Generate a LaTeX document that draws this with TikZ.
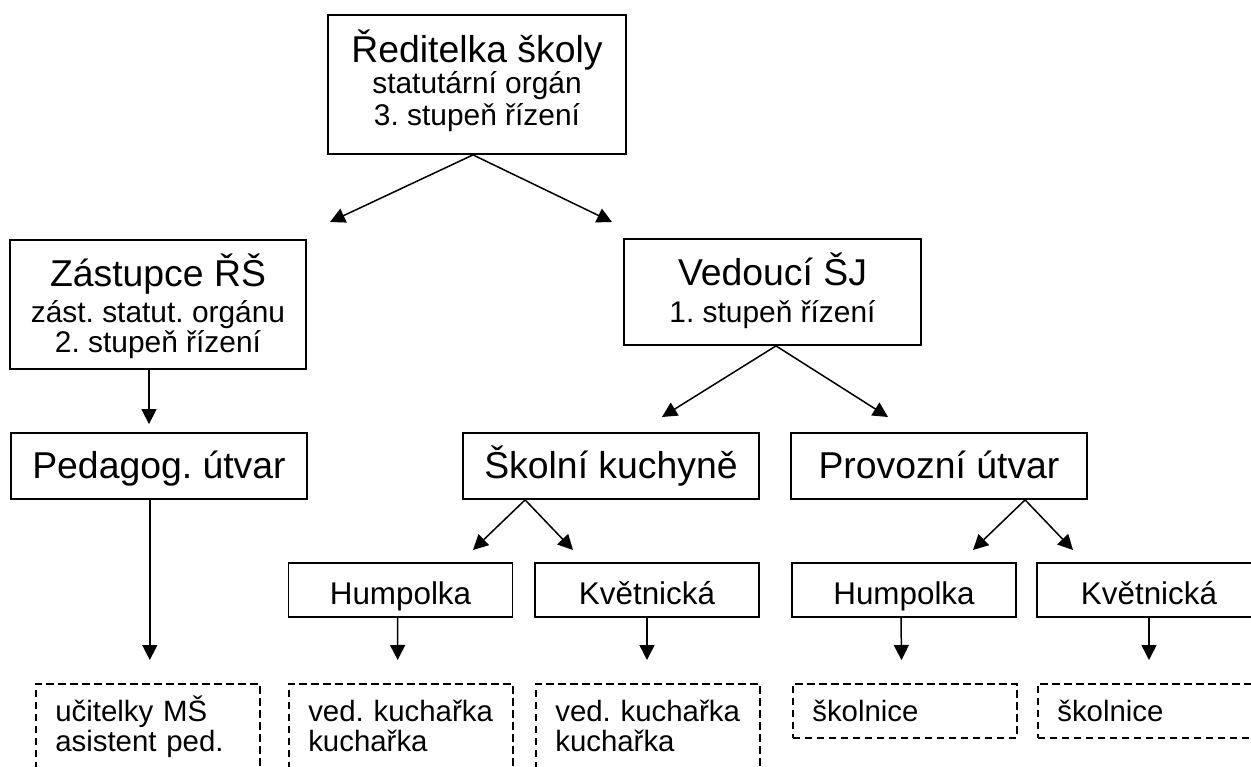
\documentclass[tikz,border=0pt]{standalone}
\usepackage{fontspec}
\setmainfont{Liberation Sans}
\frenchspacing
\lineskiplimit=-100pt
\usetikzlibrary{arrows.meta,calc}
\tikzset{
  box/.style={draw, line width=1.8bp, rectangle, inner sep=0pt, align=center},
  midfont/.style={font=\fontsize{30}{30}\selectfont},
  onebig/.style={box, font=\fontsize{37.5}{40}\selectfont, minimum width=296bp, minimum height=66bp, text height=27bp, text depth=3bp},
  onemid/.style={box, font=\fontsize{31.5}{34}\selectfont, minimum width=224bp, minimum height=54bp, text height=28bp, text depth=0bp},
  dbox/.style={draw, line width=1.6bp, dash pattern=on 7.5bp off 4.5bp, anchor=north west,
    text width=185bp, inner xsep=19.5bp, inner ysep=16.5bp, align=left,
    font=\fontsize{29.5}{30}\selectfont, text height=21bp},
  arr/.style={line width=1.5bp, -{Triangle[length=15bp,width=15bp]}},
}
\newcommand{\bigline}[1]{{\fontsize{37.5}{40}\selectfont #1}}
\begin{document}
\begin{tikzpicture}[x=1bp,y=-1bp]
\path[use as bounding box] (0,0) rectangle (1251,767);
\clip (0,0) rectangle (1251,767);

% level 1
\node[box, midfont, minimum width=298bp, minimum height=139bp, text height=97bp, text depth=16bp] (dir) at (477,84.5)
  {\bigline{Ředitelka školy}\\[1bp] statutární orgán\\[2bp] 3. stupeň řízení};

% level 2
\node[box, midfont, minimum width=296bp, minimum height=129bp, text height=100bp, text depth=5bp] (zast) at (158,304.5)
  {\bigline{Zástupce ŘŠ}\\[6bp] zást. statut. orgánu\\ 2. stupeň řízení};
\node[box, midfont, minimum width=297bp, minimum height=106bp, text height=71.5bp, text depth=10.5bp] (ved) at (772.5,292)
  {\bigline{Vedoucí ŠJ}\\[7.5bp] 1. stupeň řízení};

% level 3
\node[onebig] (ped) at (159,466) {Pedagog. útvar};
\node[onebig] (sk) at (611,466) {Školní kuchyně};
\node[onebig] (prov) at (939,466) {Provozní útvar};

% level 4
\node[onemid] (hum1) at (400.5,590) {Humpolka};
\node[onemid] (kvet1) at (647,590) {Květnická};
\node[onemid] (hum2) at (904,590) {Humpolka};
\node[onemid] (kvet2) at (1149,590) {Květnická};

% level 5 (dashed)
\node[dbox, text depth=80bp] (d1) at (35,683) {učitelky MŠ\\ asistent ped.};
\node[dbox, text depth=80bp] (d2) at (288,683) {ved. kuchařka\\ kuchařka};
\node[dbox, text depth=80bp] (d3) at (535,683) {ved. kuchařka\\ kuchařka};
\node[dbox, text depth=0bp] (d4) at (792,683) {školnice};
\node[dbox, text depth=0bp] (d5) at (1037,683) {školnice};

% arrow tips
\coordinate (tz) at (330,222);
\coordinate (tv) at (612,222);
\coordinate (tsk) at (662,417);
\coordinate (tpr) at (888,417);
\coordinate (th1) at (473,550);
\coordinate (tk1) at (573,550);
\coordinate (th2) at (973,550);
\coordinate (tk2) at (1073,550);

% connectors
\draw[arr] ($(dir.south)+(-4,0)$) -- (tz);
\draw[arr] ($(dir.south)+(-4,0)$) -- (tv);
\draw[arr, shorten >=8bp] ($(zast.south)+(-9,0)$) -- ($(ped.north)+(-10,0)$);
\draw[arr] ($(ved.south)+(3.5,0)$) -- (tsk);
\draw[arr] ($(ved.south)+(3.5,0)$) -- (tpr);
\draw[arr, shorten >=23bp] ($(d1.north |- ped.south)+(2,0)$) -- ($(d1.north)+(2,0)$);
\draw[arr] ($(sk.south west)+(63,0)$) -- (th1);
\draw[arr] ($(sk.south west)+(63,0)$) -- (tk1);
\draw[arr] ($(prov.south west)+(235,0)$) -- (th2);
\draw[arr] ($(prov.south west)+(235,0)$) -- (tk2);
\draw[arr, shorten >=23bp] ($(hum1.south)+(-3,0)$) -- ($(d2.north)+(-3,0)$);
\draw[arr, shorten >=23bp] (kvet1.south) -- (kvet1.south |- d3.north);
\draw[arr, shorten >=23bp] ($(hum2.south)+(-3,0)$) -- ($(d4.north)+(-3,0)$);
\draw[arr, shorten >=23bp] (kvet2.south) -- (kvet2.south |- d5.north);
\end{tikzpicture}
\end{document}
